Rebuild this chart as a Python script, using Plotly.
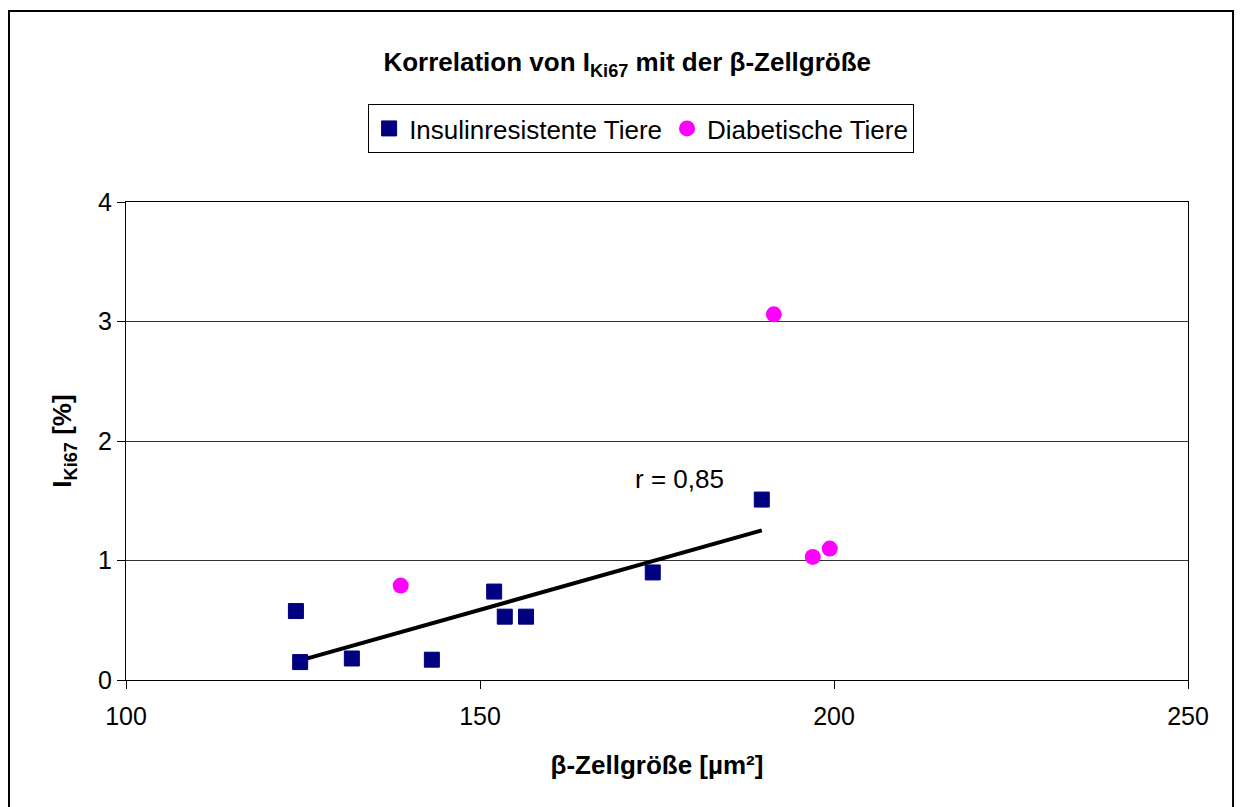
import numpy as np
import plotly.graph_objects as go

# Data
ir_x = [124.0, 124.6, 131.9, 143.2, 152.0, 153.5, 156.5, 174.4, 189.8]
ir_y = [0.577, 0.15, 0.18, 0.17, 0.74, 0.53, 0.53, 0.90, 1.51]
dia_x = [138.8, 191.5, 197.0, 199.4]
dia_y = [0.79, 3.06, 1.03, 1.10]
x_ticks = [100, 150, 200, 250]
y_ticks = [0, 1, 2, 3, 4]

FONT = "Liberation Sans, Arial, sans-serif"

# Linear regression for the insulin-resistant group
slope, intercept = np.polyfit(ir_x, ir_y, 1)
r = np.corrcoef(ir_x, ir_y)[0, 1]
fit_x = [min(ir_x), max(ir_x)]
fit_y = [slope * v + intercept for v in fit_x]

fig = go.Figure()
fig.add_trace(go.Scatter(
    x=fit_x, y=fit_y, mode="lines",
    line=dict(color="black", width=4),
    showlegend=False, hoverinfo="skip"))
fig.add_trace(go.Scatter(
    x=ir_x, y=ir_y, mode="markers", name="Insulinresistente Tiere",
    marker=dict(symbol="square", size=15, color="#000080",
                line=dict(color="#000080", width=1))))
fig.add_trace(go.Scatter(
    x=dia_x, y=dia_y, mode="markers", name="Diabetische Tiere",
    marker=dict(symbol="circle", size=16, color="#FF00FF",
                line=dict(color="#FF00FF", width=0))))

fig.add_annotation(x=178.2, y=1.68, xref="x", yref="y",
                   text="r = " + f"{r:.2f}".replace(".", ","),
                   showarrow=False, font=dict(family=FONT, size=26, color="black"))

# Outer chart border
fig.add_shape(type="rect", xref="paper", yref="paper",
              x0=-0.1102, x1=1.0424, y0=-0.30, y1=1.3996,
              line=dict(color="black", width=2), layer="below")

fig.update_layout(
    width=1236, height=799,
    margin=dict(l=118, r=56, t=194, b=127),
    paper_bgcolor="white", plot_bgcolor="white",
    font=dict(family=FONT, size=26, color="black"),
    title=dict(text="<b>Korrelation von I<sub>Ki67</sub> mit der β-Zellgröße</b>",
               x=0.501, xanchor="center", xref="container",
               y=0.932, yanchor="middle", yref="container",
               font=dict(family=FONT, size=26, color="black")),
    legend=dict(orientation="h", x=0.228, y=1.205, xanchor="left", yanchor="top",
                bordercolor="black", borderwidth=1, bgcolor="white",
                font=dict(family=FONT, size=26, color="black"),
                itemwidth=30, tracegroupgap=0),
    xaxis=dict(range=[100, 250], tickvals=x_ticks, ticks="outside", ticklen=8,
               tickcolor="black", showline=True, linecolor="black", linewidth=1,
               mirror=True, showgrid=False, zeroline=False,
               ticklabelstandoff=6,
               tickfont=dict(family=FONT, size=25),
               title=dict(text="<b>β-Zellgröße [µm²]</b>", standoff=26,
                          font=dict(family=FONT, size=26))),
    yaxis=dict(range=[0, 4], tickvals=y_ticks, ticks="outside", ticklen=8,
               tickcolor="black", showline=True, linecolor="black", linewidth=1,
               mirror=True, showgrid=True, gridcolor="#333333", gridwidth=1,
               zeroline=False, tickfont=dict(family=FONT, size=25),
               title=dict(text="<b>I<sub>Ki67</sub> [%]</b>", standoff=18,
                          font=dict(family=FONT, size=26))),
)

fig.write_html("out.html")
